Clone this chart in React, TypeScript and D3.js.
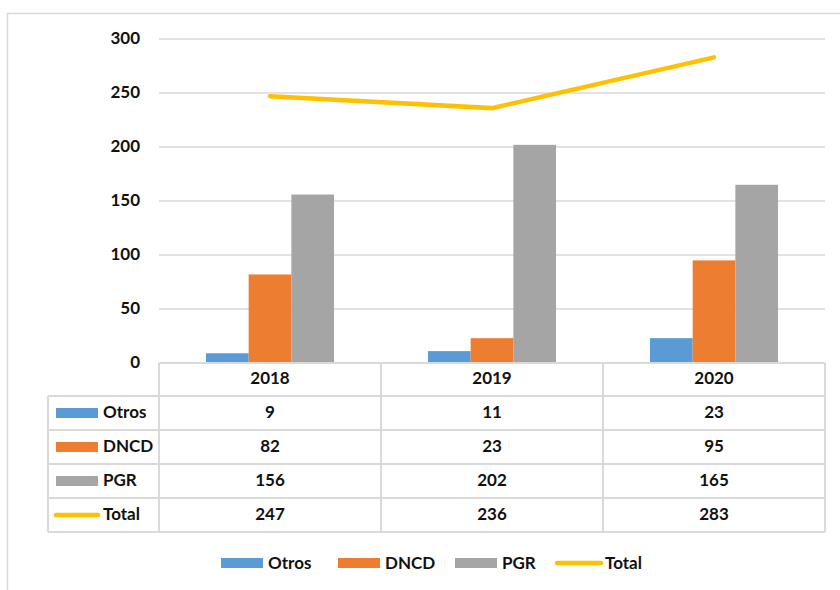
import React, { useRef, useEffect } from 'react';
import * as d3 from "d3";

const years = ["2018", "2019", "2020"];
const otros = [9, 11, 23];
const dncd = [82, 23, 95];
const pgr = [156, 202, 165];
const total = [247, 236, 283];
const yTicks = [0, 50, 100, 150, 200, 250, 300];

const seriesNames = ["Otros", "DNCD", "PGR"];
const seriesColors = ["#5B9BD5", "#ED7D31", "#A5A5A5"];
const lineColor = "#FFC000";

function App() {
    const ref = useRef(null);

    useEffect(() => {
        const width = 840;
        const height = 590;
        const font = "Lato, 'Noto Sans', sans-serif";
        const gridColor = "#D9D9D9";

        const svg = d3.select(ref.current);
        svg.selectAll("*").remove();

        // outer chart border
        svg.append("rect")
            .attr("x", 7.5).attr("y", 13.5)
            .attr("width", width).attr("height", height)
            .attr("fill", "white")
            .attr("stroke", gridColor)
            .attr("stroke-width", 1.5);

        const x = d3.scaleBand(years, [159, 825]);
        const y = d3.scaleLinear([0, 300], [363, 39]);
        const x1 = d3.scaleBand(seriesNames, [0, x.bandwidth()]).paddingInner(0).paddingOuter(1.1);

        const textStyle = sel => sel
            .attr("font-family", font)
            .attr("font-weight", "bold")
            .attr("font-size", 17)
            .attr("fill", "#111");

        // grid
        svg.append("g")
            .selectAll("line")
            .data(yTicks.filter(d => d > 0))
            .join("line")
            .attr("x1", 159).attr("x2", 825)
            .attr("y1", d => y(d)).attr("y2", d => y(d))
            .attr("stroke", gridColor)
            .attr("stroke-width", 1.5);

        // y tick labels
        svg.append("g")
            .selectAll("text")
            .data(yTicks)
            .join("text")
            .attr("x", 140)
            .attr("y", d => y(d) - 1)
            .attr("dy", "0.35em")
            .attr("text-anchor", "end")
            .call(textStyle)
            .text(d => d);

        // bars
        const series = [otros, dncd, pgr];
        const bars = svg.append("g");
        series.forEach((vals, si) => {
            bars.append("g")
                .selectAll("rect")
                .data(vals)
                .join("rect")
                .attr("x", (d, i) => x(years[i]) + x1(seriesNames[si]))
                .attr("y", d => y(d))
                .attr("width", x1.bandwidth())
                .attr("height", d => y(0) - y(d))
                .attr("fill", seriesColors[si]);
        });

        // total line
        const line = d3.line()
            .x((d, i) => x(years[i]) + x.bandwidth() / 2)
            .y(d => y(d));
        svg.append("path")
            .datum(total)
            .attr("d", line)
            .attr("fill", "none")
            .attr("stroke", lineColor)
            .attr("stroke-width", 4.5)
            .attr("stroke-linecap", "round");

        // data table
        const rowH = 34;
        const tableTop = 362;
        const tableLeft = 48;
        const rows = [
            { name: "Otros", vals: otros, color: seriesColors[0], type: "bar" },
            { name: "DNCD", vals: dncd, color: seriesColors[1], type: "bar" },
            { name: "PGR", vals: pgr, color: seriesColors[2], type: "bar" },
            { name: "Total", vals: total, color: lineColor, type: "line" },
        ];
        const tableBottom = tableTop + rowH * (rows.length + 1);
        const tg = svg.append("g")
            .attr("stroke", gridColor)
            .attr("stroke-width", 2);

        // horizontal lines
        tg.append("line")
            .attr("x1", 159).attr("x2", 825)
            .attr("y1", tableTop + 1).attr("y2", tableTop + 1);
        d3.range(1, rows.length + 2).forEach(r => {
            tg.append("line")
                .attr("x1", tableLeft).attr("x2", 825)
                .attr("y1", tableTop + r * rowH).attr("y2", tableTop + r * rowH);
        });
        // vertical lines
        tg.append("line")
            .attr("x1", tableLeft).attr("x2", tableLeft)
            .attr("y1", tableTop + rowH).attr("y2", tableBottom);
        [159, ...years.map(c => x(c) + x.bandwidth())].forEach(xx => {
            tg.append("line")
                .attr("x1", xx).attr("x2", xx)
                .attr("y1", tableTop + 1).attr("y2", tableBottom);
        });

        // header
        svg.append("g")
            .selectAll("text")
            .data(years)
            .join("text")
            .attr("x", d => x(d) + x.bandwidth() / 2)
            .attr("y", tableTop + rowH / 2 - 1)
            .attr("dy", "0.35em")
            .attr("text-anchor", "middle")
            .call(textStyle)
            .text(d => d);

        rows.forEach((row, r) => {
            const cy = tableTop + (r + 1) * rowH + rowH / 2 - 1;
            const g = svg.append("g");
            if (row.type === "bar") {
                g.append("rect")
                    .attr("x", 56).attr("y", cy - 4)
                    .attr("width", 42).attr("height", 10)
                    .attr("fill", row.color);
            } else {
                g.append("line")
                    .attr("x1", 56).attr("x2", 98)
                    .attr("y1", cy + 1).attr("y2", cy + 1)
                    .attr("stroke", row.color)
                    .attr("stroke-width", 4.5)
                    .attr("stroke-linecap", "round");
            }
            g.append("text")
                .attr("x", 103).attr("y", cy)
                .attr("dy", "0.35em")
                .call(textStyle)
                .text(row.name);
            g.selectAll("text.v")
                .data(row.vals)
                .join("text")
                .attr("class", "v")
                .attr("x", (d, i) => x(years[i]) + x.bandwidth() / 2)
                .attr("y", cy)
                .attr("dy", "0.35em")
                .attr("text-anchor", "middle")
                .call(textStyle)
                .text(d => d);
        });

        // bottom legend
        const legendY = 563;
        const legendItems = [
            { name: "Otros", color: seriesColors[0], type: "bar", x: 221 },
            { name: "DNCD", color: seriesColors[1], type: "bar", x: 338 },
            { name: "PGR", color: seriesColors[2], type: "bar", x: 455 },
            { name: "Total", color: lineColor, type: "line", x: 557 },
        ];
        legendItems.forEach(item => {
            const g = svg.append("g");
            if (item.type === "bar") {
                g.append("rect")
                    .attr("x", item.x).attr("y", legendY - 5)
                    .attr("width", 42).attr("height", 10)
                    .attr("fill", item.color);
            } else {
                g.append("line")
                    .attr("x1", item.x).attr("x2", item.x + 44)
                    .attr("y1", legendY).attr("y2", legendY)
                    .attr("stroke", item.color)
                    .attr("stroke-width", 4.5)
                    .attr("stroke-linecap", "round");
            }
            g.append("text")
                .attr("x", item.x + (item.type === "bar" ? 47 : 48))
                .attr("y", legendY)
                .attr("dy", "0.35em")
                .call(textStyle)
                .text(item.name);
        });
    }, []);

    return (
        <svg ref={ref} width={840} height={590}
            style={{ position: "absolute", left: 0, top: 0, background: "white" }} />
    );
}

export default App;
